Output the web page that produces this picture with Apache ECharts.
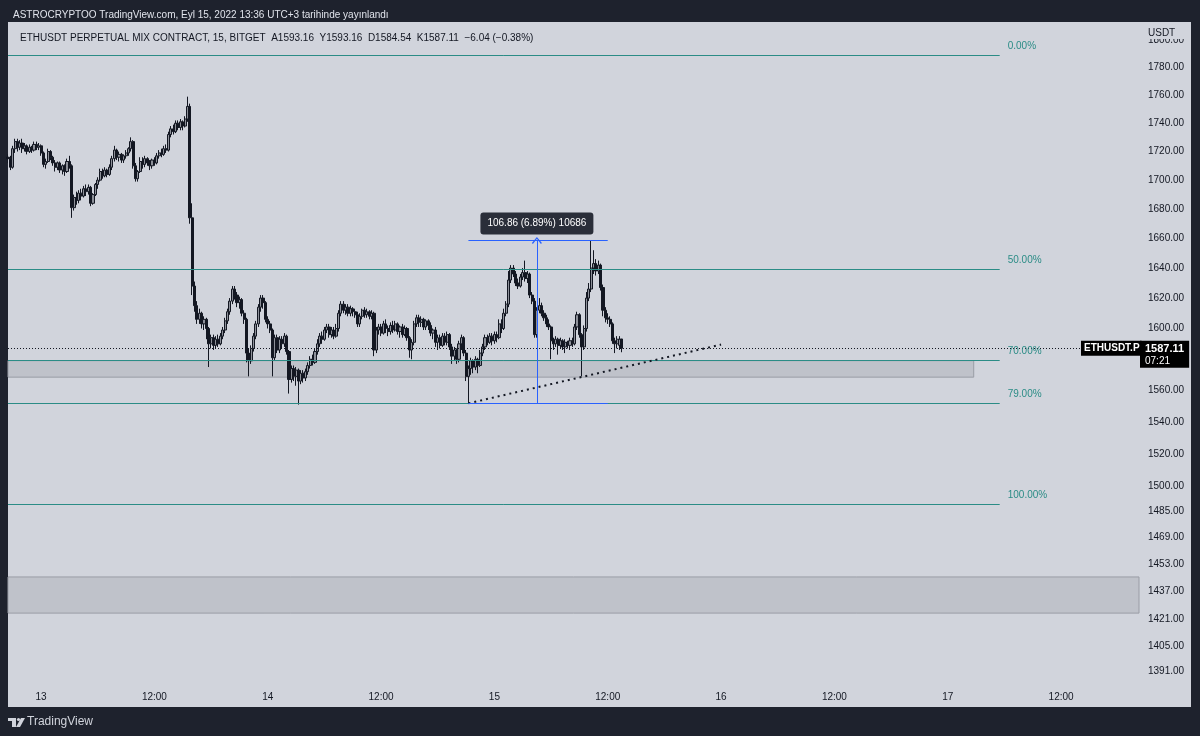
<!DOCTYPE html>
<html>
<head>
<meta charset="utf-8">
<title>ETHUSDT.P 15m</title>
<script src="https://cdn.jsdelivr.net/npm/echarts@6/dist/echarts.min.js"></script>
<style>
  html, body { margin: 0; padding: 0; background: #1e222d; }
  #main { width: 1200px; height: 736px; }
</style>
</head>
<body>
<div id="main"></div>
<script>
// 15m candles from Sep 12 20:30, rows are [open, close, low, high]
var candles = [
  [1716,1715,1712,1718],
  // Sep 12 20:45
  [1715,1709,1707,1717],[1709,1722,1708,1724],[1722,1727,1719,1729],[1727,1723,1720,1729],[1723,1726,1721,1728],
  [1726,1722,1719,1729],[1722,1724,1720,1726],[1724,1720,1718,1725],[1720,1723,1719,1725],[1723,1721,1719,1724],
  [1721,1725,1720,1727],[1725,1723,1721,1727],[1723,1724,1721,1726],
  // Sep 13 00:00
  [1724,1719,1717,1725],[1719,1711,1709,1720],[1711,1713,1708,1715],[1713,1720,1712,1722],[1720,1716,1714,1721],
  [1716,1712,1710,1717],[1712,1709,1706,1714],[1709,1712,1707,1713],[1712,1707,1705,1713],[1707,1710,1704,1711],
  [1710,1706,1703,1711],[1706,1713,1705,1715],[1713,1710,1708,1717],[1710,1681,1674,1711],[1681,1688,1679,1690],
  [1688,1686,1683,1692],[1686,1691,1684,1693],[1691,1689,1686,1694],[1689,1694,1688,1696],[1694,1692,1689,1697],
  [1692,1695,1690,1697],[1695,1684,1682,1696],[1684,1690,1683,1691],[1690,1697,1689,1698],[1697,1700,1694,1702],
  [1700,1706,1699,1708],[1706,1703,1701,1708],[1703,1707,1702,1709],[1707,1704,1702,1708],[1704,1709,1703,1711],
  [1709,1715,1707,1717],[1715,1721,1713,1724],[1721,1716,1714,1722],[1716,1718,1713,1720],[1718,1714,1712,1719],
  [1714,1717,1712,1718],[1717,1719,1715,1721],[1719,1722,1717,1723],[1722,1727,1720,1730],[1727,1710,1708,1728],
  [1710,1701,1699,1712],[1701,1706,1699,1707],[1706,1713,1705,1716],[1713,1711,1708,1716],[1711,1715,1709,1717],
  [1715,1712,1710,1716],[1712,1710,1707,1714],[1710,1714,1708,1715],[1714,1712,1710,1716],[1712,1717,1711,1719],
  [1717,1719,1715,1721],[1719,1718,1716,1722],[1718,1722,1717,1724],[1722,1721,1719,1725],[1721,1732,1720,1734],
  [1732,1736,1730,1738],[1736,1734,1732,1739],[1734,1740,1733,1742],[1740,1737,1735,1742],[1737,1741,1735,1743],
  [1741,1738,1735,1742],[1738,1743,1737,1745],[1743,1752,1741,1759],[1752,1674,1670,1754],[1674,1628,1622,1684],
  [1628,1615,1611,1631],[1615,1606,1603,1618],[1606,1610,1603,1613],[1610,1603,1600,1611],[1603,1606,1599,1608],
  [1606,1600,1593,1607],[1600,1590,1575,1601],[1590,1594,1587,1596],[1594,1589,1586,1596],[1589,1593,1587,1595],
  [1593,1590,1588,1596],[1590,1595,1589,1597],[1595,1599,1593,1601],[1599,1605,1597,1607],[1605,1611,1603,1613],
  [1611,1618,1609,1620],[1618,1626,1616,1628],[1626,1622,1619,1628],[1622,1617,1614,1624],[1617,1619,1613,1621],
  [1619,1610,1608,1620],[1610,1606,1603,1612],[1606,1584,1578,1607],[1584,1579,1569,1587],[1579,1587,1577,1589],
  [1587,1595,1585,1597],[1595,1603,1593,1605],[1603,1614,1601,1616],[1614,1620,1611,1622],[1620,1617,1613,1622],
  [1617,1606,1604,1618],[1606,1603,1600,1608],[1603,1599,1597,1605],[1599,1581,1569,1600],[1581,1594,1579,1596],
  [1594,1586,1584,1596],[1586,1593,1584,1595],[1593,1590,1587,1595],[1590,1595,1588,1597],[1595,1585,1583,1596],
  [1585,1567,1558,1586],[1567,1574,1565,1576],[1574,1569,1566,1576],[1569,1573,1563,1575],[1573,1566,1551,1574],
  [1566,1571,1564,1573],[1571,1568,1565,1573],[1568,1572,1566,1574],[1572,1576,1570,1578],[1576,1580,1574,1582],
  [1580,1578,1576,1583],[1578,1585,1577,1587],[1585,1590,1583,1593],[1590,1595,1588,1597],[1595,1593,1590,1598],
  [1593,1599,1592,1601],[1599,1601,1597,1603],[1601,1596,1594,1603],[1596,1599,1594,1601],[1599,1595,1593,1601],
  [1595,1600,1594,1603],[1600,1610,1598,1612],[1610,1616,1608,1618],[1616,1612,1610,1618],[1612,1614,1609,1616],
  [1614,1610,1608,1616],[1610,1613,1608,1615],[1613,1611,1608,1614],[1611,1609,1607,1613],[1609,1603,1601,1611],
  [1603,1608,1601,1610],[1608,1612,1606,1613],[1612,1609,1607,1614],[1609,1611,1607,1613],[1611,1608,1606,1612],
  [1608,1610,1606,1612],[1610,1586,1582,1611],[1586,1599,1584,1601],[1599,1601,1596,1603],[1601,1597,1595,1603],
  [1597,1603,1596,1605],[1603,1600,1597,1606],[1600,1598,1595,1602],[1598,1602,1596,1604],[1602,1599,1597,1605],
  [1599,1603,1598,1605],[1603,1598,1596,1604],[1598,1601,1594,1602],[1601,1596,1594,1603],[1596,1600,1595,1602],
  [1600,1594,1592,1601],[1594,1586,1581,1595],[1586,1591,1580,1593],[1591,1603,1589,1605],[1603,1607,1601,1609],
  [1607,1604,1601,1609],[1604,1606,1601,1608],[1606,1601,1599,1607],[1601,1605,1599,1606],[1605,1602,1599,1606],
  [1602,1597,1595,1604],[1597,1599,1593,1600],[1599,1591,1588,1601],[1591,1594,1586,1596],[1594,1589,1587,1596],
  [1589,1595,1588,1597],[1595,1591,1589,1597],[1591,1596,1589,1598],[1596,1588,1586,1597],[1588,1582,1577,1590],
  [1582,1586,1579,1588],[1586,1580,1577,1587],[1580,1590,1578,1592],[1590,1594,1586,1596],[1594,1584,1582,1595],
  [1584,1569,1566,1586],[1569,1574,1551.8,1576],[1574,1579,1570,1581],[1579,1575,1571,1580],[1575,1580,1573,1582],
  [1580,1576,1571,1581],[1576,1584,1575,1586],[1584,1588,1582,1590],[1588,1594,1586,1596],[1594,1591,1589,1596],
  [1591,1595,1590,1597],[1595,1592,1589,1597],[1592,1596,1590,1598],[1596,1594,1591,1598],[1594,1603,1593,1606],
  [1603,1600,1597,1606],[1600,1610,1599,1613],[1610,1616,1608,1618],[1616,1632,1614,1638],[1632,1640,1630,1642],
  [1640,1636,1634,1642],[1636,1630,1628,1638],[1630,1628,1626,1633],[1628,1634,1627,1636],[1634,1637,1632,1640],
  [1637,1633,1631,1645],[1633,1636,1630,1638],[1636,1622,1620,1637],[1622,1618,1616,1624],[1618,1596,1594,1620],
  [1596,1612,1594,1614],[1612,1615,1610,1620],[1615,1610,1608,1617],[1610,1607,1605,1612],[1607,1603,1601,1609],
  [1603,1601,1599,1606],[1601,1592,1580,1602],[1592,1590,1586,1594],[1590,1593,1588,1595],[1593,1589,1583,1594],
  [1589,1592,1587,1594],[1592,1588,1586,1593],[1588,1591,1584,1593],[1591,1589,1587,1592],[1589,1592,1586,1594],
  [1592,1590,1588,1594],[1590,1601,1589,1603],[1601,1609,1599,1611],[1609,1596,1594,1610],[1596,1588,1569,1597],
  [1588,1600,1586,1602],[1600,1620,1598,1624],[1620,1626,1618,1630],[1626,1640,1624,1658.66],[1640,1643,1636,1652],
  [1643,1638,1635,1646],[1638,1642,1636,1645],[1642,1627,1625,1643],[1627,1612,1608,1629],[1612,1607,1604,1614],
  [1607,1606,1603,1610],[1606,1603,1601,1608],[1603,1592,1590,1604],[1592,1590,1584,1594],[1590,1593,1587,1595],
  [1589,1593,1586,1595],[1593.16,1587.11,1584.54,1593.16]
];

var priceTicks = [1800,1780,1760,1740,1720,1700,1680,1660,1640,1620,1600,1560,1540,1520,1500,1485,1469,1453,1437,1421,1405,1391];
var fibLevels = [1788.8, 1639.0, 1579.1, 1552.1, 1489.2];
var fibNames = ['0.00%', '50.00%', '70.00%', '79.00%', '100.00%'];
var zoneUpper = [1579.1, 1568.5];
var zoneLower = [1445.5, 1424.3];
var lastPrice = 1587.11;
var trendFrom = 1551.8, trendTo = 1589.5;
var measureLow = 1551.8, measureHigh = 1658.66;

var headerText = 'ASTROCRYPTOO TradingView.com, Eyl 15, 2022 13:36 UTC+3 tarihinde yayınlandı';
var legendText = 'ETHUSDT PERPETUAL MIX CONTRACT, 15, BITGET  A1593.16  Y1593.16  D1584.54  K1587.11  \u22126.04 (\u22120.38%)';

var FONT = "'Liberation Sans', Arial, sans-serif";
var TEAL = '#2b8c86';
var BLUE = '#2962ff';
var INK = '#131722';

// 15 minute slots, Sep 12 20:30 up to the right edge
var cats = [];
var t0 = Date.UTC(2022, 8, 12, 20, 30);
function pad(n) { return n < 10 ? '0' + n : '' + n; }
for (var i = 0; i < 480; i++) {
    var d = new Date(t0 + i * 15 * 60000);
    cats.push(d.getUTCFullYear() + '-' + pad(d.getUTCMonth() + 1) + '-' + pad(d.getUTCDate()) + ' ' +
        pad(d.getUTCHours()) + ':' + pad(d.getUTCMinutes()));
}

var myChart = echarts.init(document.getElementById('main'));

// fib retracement lines
var fibLines = [];
for (var f = 0; f < fibLevels.length; f++) {
    fibLines.push([
        {
            coord: [cats[0], fibLevels[f]],
            label: {
                show: true, position: 'end', distance: 8, offset: [0, -9],
                formatter: fibNames[f], color: TEAL, fontSize: 10, fontFamily: FONT
            }
        },
        { coord: [cats[420], fibLevels[f]] }
    ]);
}

// last price: tag inside the pane and tag on the price scale
var priceLines = [
    {
        yAxis: lastPrice,
        label: {
            show: true, position: 'end', distance: -58,
            formatter: 'ETHUSDT.P', color: '#fff', fontSize: 10, fontWeight: 'bold', fontFamily: FONT,
            backgroundColor: '#000', padding: [3, 2, 2, 3]
        }
    },
    {
        yAxis: lastPrice,
        label: {
            show: true, position: 'end', distance: 1, offset: [0, 6],
            formatter: '{a|1587.11}\n{b|07:21}',
            backgroundColor: '#000', padding: [2, 5, 1, 5],
            rich: {
                a: { color: '#fff', fontSize: 11, fontWeight: 'bold', fontFamily: FONT, lineHeight: 12 },
                b: { color: '#fff', fontSize: 10, fontFamily: FONT, lineHeight: 12 }
            }
        }
    }
];

// price range measure
var measureLines = [
    [{ coord: [cats[195], measureHigh] }, { coord: [cats[254], measureHigh] }],
    [{ coord: [cats[195], measureLow] }, { coord: [cats[254], measureLow] }],
    [
        {
            coord: [cats[224], measureLow], symbol: 'none',
            label: {
                show: true, position: 'end', distance: 6,
                formatter: '106.86 (6.89%) 10686', color: '#fff', fontSize: 10, fontFamily: FONT,
                backgroundColor: '#2a2e39', borderRadius: 3, padding: [6, 7, 6, 7]
            }
        },
        {
            coord: [cats[224], measureHigh],
            symbol: 'path://M0,7 L5,0 L10,7 L9,8 L5,2 L1,8 Z', symbolSize: [10, 7]
        }
    ]
];

var trendLines = [
    [{ coord: [cats[195], trendFrom] }, { coord: [cats[302], trendTo] }]
];

var option = {
    backgroundColor: '#1e222d',
    animation: false,
    textStyle: { fontFamily: FONT },
    graphic: [
        { type: 'rect', z: -10, shape: { x: 8, y: 22, width: 1183, height: 685 }, style: { fill: '#d1d4dc' } },
        { type: 'rect', z: 100, shape: { x: 1140, y: 22, width: 51, height: 17 }, style: { fill: '#d1d4dc' } },
        { type: 'text', z: 101, left: 1148, top: 28, style: { text: 'USDT', fill: INK, font: '10px ' + FONT } },
        { type: 'polygon', z: 101, shape: { points: [[8,718],[16,718],[16,727],[12,727],[12,721],[8,721]] }, style: { fill: '#d1d4dc' } },
        { type: 'circle', z: 101, shape: { cx: 18.5, cy: 719.5, r: 1.6 }, style: { fill: '#d1d4dc' } },
        { type: 'polygon', z: 101, shape: { points: [[21,718],[25,718],[20,727],[16,727]] }, style: { fill: '#d1d4dc' } },
        { type: 'text', z: 101, left: 27, top: 716, style: { text: 'TradingView', fill: '#d1d4dc', font: '12px ' + FONT } }
    ],
    title: [
        { text: headerText, left: 8, top: 5, textStyle: { color: '#e0e3eb', fontSize: 10, fontWeight: 'normal', fontFamily: FONT } },
        { text: legendText, left: 15, top: 28, textStyle: { color: INK, fontSize: 10, fontWeight: 'normal', fontFamily: FONT } }
    ],
    grid: { left: 8, right: 61, top: 22, bottom: 53 },
    xAxis: {
        type: 'category',
        data: cats,
        boundaryGap: false,
        axisLine: { show: false },
        axisTick: { show: false },
        splitLine: { show: false },
        axisLabel: {
            color: INK, fontSize: 10, margin: 9, fontFamily: FONT,
            interval: function (idx, val) {
                var hm = val.slice(11);
                return hm === '00:00' || hm === '12:00';
            },
            formatter: function (val) {
                var hm = val.slice(11);
                return hm === '00:00' ? String(parseInt(val.slice(8, 10), 10)) : hm;
            }
        }
    },
    yAxis: {
        type: 'log',
        logBase: 10,
        min: 1384.2,
        max: 1813.5,
        position: 'right',
        axisLine: { show: false },
        axisTick: { show: false },
        splitLine: { show: false },
        axisLabel: {
            customValues: priceTicks,
            color: INK, fontSize: 10, margin: 9, fontFamily: FONT,
            formatter: function (v) { return Number(v).toFixed(2); }
        }
    },
    series: [
        {
            name: 'zones',
            type: 'line',
            data: [],
            silent: true,
            markArea: {
                silent: true,
                itemStyle: { color: '#bfc2ca', borderColor: '#9a9da6', borderWidth: 1 },
                data: [
                    [{ coord: [cats[0], zoneUpper[0]] }, { coord: [cats[409], zoneUpper[1]] }],
                    [{ yAxis: zoneLower[0] }, { yAxis: zoneLower[1] }]
                ]
            }
        },
        {
            name: 'fib',
            type: 'line',
            data: [],
            silent: true,
            markLine: {
                silent: true,
                symbol: ['none', 'none'],
                label: { show: false },
                lineStyle: { color: TEAL, width: 1, type: 'solid', opacity: 1 },
                data: fibLines
            }
        },
        {
            name: 'ETHUSDT',
            type: 'candlestick',
            data: candles,
            barWidth: 2.6,
            itemStyle: {
                color: '#8d9099',
                color0: INK,
                borderColor: INK,
                borderColor0: INK,
                borderWidth: 1
            }
        },
        {
            name: 'last',
            type: 'line',
            data: [],
            silent: true,
            markLine: {
                silent: true,
                symbol: ['none', 'none'],
                label: { show: false },
                lineStyle: { color: INK, width: 1, type: [1, 2], opacity: 1 },
                data: priceLines
            }
        },
        {
            name: 'trend',
            type: 'line',
            data: [],
            silent: true,
            markLine: {
                silent: true,
                symbol: ['none', 'none'],
                label: { show: false },
                lineStyle: { color: INK, width: 2, type: [2, 4], opacity: 1 },
                data: trendLines
            }
        },
        {
            name: 'measure',
            type: 'line',
            data: [],
            silent: true,
            markLine: {
                silent: true,
                symbol: ['none', 'none'],
                label: { show: false },
                lineStyle: { color: BLUE, width: 1, type: 'solid', opacity: 1 },
                itemStyle: { color: BLUE },
                data: measureLines
            }
        }
    ]
};

myChart.setOption(option);
</script>
</body>
</html>
